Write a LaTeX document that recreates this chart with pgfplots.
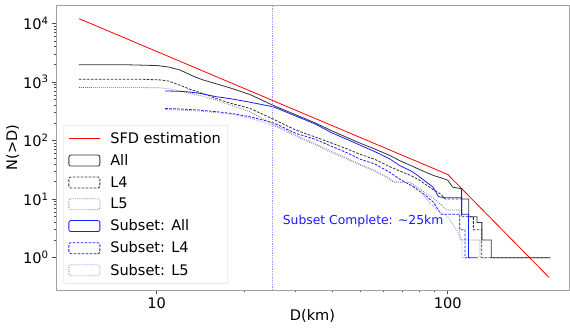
\documentclass[border=0pt]{standalone}
\usepackage{fontspec}
\setmainfont{DejaVu Sans}
\usepackage{pgfplots}
\pgfplotsset{compat=1.18}
\definecolor{frame}{HTML}{A0A0A0}
\definecolor{sub}{HTML}{1A1AFF}
\pgfplotsset{
  rectlegend/.style={legend image code/.code={\draw[##1] (0bp,-5.5bp) rectangle (31bp,5.5bp);}},
  redlegend/.style={legend image code/.code={\draw[red, line width=0.8pt] (0bp,0bp) -- (31bp,0bp);}},
}
\begin{document}
\begin{tikzpicture}
\begin{axis}[
  scale only axis, width=513bp, height=285bp,
  xmode=log, ymode=log,
  xmin=4.51, xmax=261, ymin=0.281, ymax=20500,
  axis line style={frame, line width=0.8pt},
  tick align=outside, xtick pos=bottom, ytick pos=left,
  major tick length=4bp, minor tick length=2.3bp,
  tick style={black!70, line width=0.6pt},
  xtick={10,100}, xticklabels={10,100},
  ytick={1,10,100,1000,10000},
  yticklabels={10\textsuperscript{0},10\textsuperscript{1},10\textsuperscript{2},10\textsuperscript{3},10\textsuperscript{4}},
  ticklabel style={font=\fontsize{14.6}{17}\selectfont},
  label style={font=\fontsize{14.6}{17}\selectfont},
  xlabel={D(km)}, ylabel={N(>D)},
  xlabel style={yshift=6bp}, ylabel style={yshift=-3bp},
  legend cell align=left,
  legend style={at={(0.0142,0.579)}, anchor=north west, draw=black!15, rounded corners=2bp,
    fill=white, fill opacity=0.8, text opacity=1, font=\fontsize{14.6}{17}\selectfont,
    row sep=5.6bp, column sep=8bp, inner xsep=5bp, inner ysep=5bp},
]
% SFD estimation
\addplot[red, line width=0.8pt, redlegend] coordinates {(5.41,12000) (100,26.3) (223,0.46)};
\addlegendentry{SFD estimation}
% All
\addplot[black!80, line width=0.8pt, rectlegend] table {
5.41 1960
8 1955
10 1900
11 1790
12 1600
13.4 1240
14.5 1070
16 930
18 780
20.9 610
25.2 395
30 275
35 200
40 146
45 113
50 90
56 72
63 56
68.6 45
75 37
80 32
85 28
90 25
95 23
100 21
104 16
111.6 15
111.6 10
118 10
118 5
126 5
126 4
131 4
131 2
141 2
141 1
225 1
};
\addlegendentry{All}
% L4
\addplot[black!80, line width=0.8pt, dash pattern=on 2.6pt off 1.4pt, rectlegend] table {
5.41 1110
9 1105
10.3 1080
11 1030
12 880
13 750
14.9 600
16 520
18 430
20.9 354
25.2 230
30 151
35 115
40 90
45 72
50 58
56 48
63 36
68.6 30
75 25
80 21
85 17
90 14
95 12
98 10
111.6 10
111.6 5
122.5 5
122.5 3
130.9 3
130.9 1
225 1
};
\addlegendentry{L4}
% L5
\addplot[black!55, line width=0.8pt, dash pattern=on 0.8pt off 1.2pt, rectlegend] table {
5.41 805
9 800
10.3 790
11 760
12 700
13 640
14.5 560
16 491
18 400
20.9 310
25.2 188
30 124
35 88
40 65
45 50
50 39
56 31
63 22
65 19.5
74.5 19
80 15
85 12
89 10.5
95 8
99 6.5
110 6.5
110 2
129 2
129 1
135 1
};
\addlegendentry{L5}
% Subset All
\addplot[sub, line width=0.8pt, rectlegend] table {
10.7 700
12 690
13 670
14 640
16 559
18 515
20.9 450
25.2 375
30 262
35 192
40 135
45 105
50 83
56 65
63 49
68.6 37
75 30
80 24
85 19
89 16
93 11
98 10.5
111.6 10.5
111.6 5.5
117.8 5.5
117.8 1
127 1
};
\addlegendentry{Subset: All}
% Subset L4
\addplot[sub, line width=0.8pt, dash pattern=on 2.6pt off 1.4pt, rectlegend] table {
10.7 350
12 345
14 330
16 310
18 290
20.9 254
25.2 200
30 133
35 105
40 79
45 62
50 48
56 40
63 29
68.6 21.7
75 17
82 12.6
89 9
95 5.5
110 5.5
110 3
114.6 3
114.6 1
119.3 1
};
\addlegendentry{Subset: L4}
% Subset L5
\addplot[blue!45, line width=0.8pt, dash pattern=on 0.8pt off 1.2pt, rectlegend] table {
10.7 335
12 330
14 318
16 298
18 280
20.9 240
25.2 180
30 118
35 85
40 61
45 48
50 38
56 30
63 23
65 20
74.5 19
80 14
87 8.5
92 6.5
100 5
107 3
112 2
112 1
117 1
};
\addlegendentry{Subset: L5}
% completeness line
\addplot[blue!40, dash pattern=on 0.8pt off 1pt, line width=0.6pt, forget plot] coordinates {(25,0.281) (25,20500)};
\node[anchor=west, inner sep=0pt, text=sub, font=\fontsize{12.4}{14}\selectfont] at (axis cs:27.1,4.23) {Subset Complete: \textasciitilde 25km};
\end{axis}
\path[use as bounding box] ([shift={(-56bp,-38bp)}]current axis.south west) rectangle ([shift={(1bp,5bp)}]current axis.north east);
\end{tikzpicture}
\end{document}
